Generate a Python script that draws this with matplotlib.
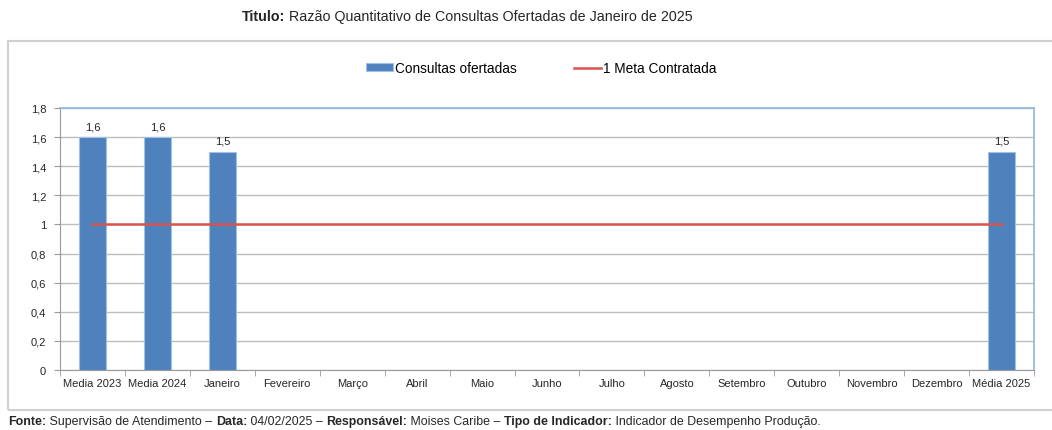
import matplotlib
matplotlib.use("Agg")
import matplotlib.pyplot as plt
from matplotlib.patches import Rectangle
from matplotlib.ticker import FuncFormatter, FixedLocator, MultipleLocator
from matplotlib.offsetbox import TextArea, HPacker, AnchoredOffsetbox
import numpy as np

plt.rcParams['font.family'] = ['Liberation Sans', 'DejaVu Sans']

categories = ["Media 2023", "Media 2024", "Janeiro", "Fevereiro", "Março", "Abril",
              "Maio", "Junho", "Julho", "Agosto", "Setembro", "Outubro", "Novembro",
              "Dezembro", "Média 2025"]
consultas = [1.6, 1.6, 1.5, None, None, None, None, None, None, None, None, None, None, None, 1.5]
meta = [1.0] * len(categories)

W, H = 1052, 431
fig = plt.figure(figsize=(W / 100, H / 100), dpi=100)

def fx(px):
    return px / W

def fy(py):
    return 1 - py / H

TXT = "#262626"

# outer frame
frame = Rectangle((fx(8), fy(411)), fx(1060) - fx(8), fy(42) - fy(411),
                  transform=fig.transFigure, fill=False, edgecolor="#d0d0d0", lw=1.5)
fig.add_artist(frame)

left, right, top, bottom = 60, 1034, 109, 371
ax = fig.add_axes([fx(left), fy(bottom), fx(right) - fx(left), fy(top) - fy(bottom)])

x = np.arange(len(categories))
mask = [v is not None for v in consultas]
xs = x[mask]
vs = np.array([v for v in consultas if v is not None])
bars = ax.bar(xs, vs, width=0.42, color="#4f81bd", edgecolor="#9cc3e6", linewidth=0.8,
              zorder=3, label="Consultas ofertadas")
for xi, v in zip(xs, vs):
    ax.text(xi, v + 0.04, f"{v:.1f}".replace(".", ","), ha="center", va="bottom",
            fontsize=8, color=TXT)

ax.plot(x, meta, color="#d9534f", lw=1.8, zorder=4, label="1 Meta Contratada")

ax.set_xlim(-0.5, len(categories) - 0.5)
ax.set_ylim(0, 1.8)
ax.yaxis.set_major_locator(MultipleLocator(0.2))
ax.yaxis.set_major_formatter(FuncFormatter(
    lambda v, p: "0" if abs(v) < 1e-9 else ("1" if abs(v - 1) < 1e-9 else f"{v:.1f}".replace(".", ","))))
ax.set_xticks(x)
ax.set_xticklabels(categories)
ax.xaxis.set_minor_locator(FixedLocator(np.arange(-0.5, len(categories), 1)))
ax.tick_params(axis="x", which="major", length=0, labelsize=8, pad=6, colors=TXT)
ax.tick_params(axis="x", which="minor", length=4, color="#999999", direction="out")
ax.tick_params(axis="y", length=4, color="#999999", labelsize=8, pad=6, colors=TXT)
ax.grid(axis="y", color="#bdbdbd", lw=1.0, zorder=0)
ax.set_axisbelow(True)

for s in ["top", "right"]:
    ax.spines[s].set_color("#8db8e0")
    ax.spines[s].set_linewidth(1.2)
ax.spines["left"].set_color("#9a9a9a")
ax.spines["bottom"].set_color("#9a9a9a")

fig.legend(handles=[bars, ax.lines[0]], labels=["Consultas ofertadas", "1 Meta Contratada"],
           loc="center", bbox_to_anchor=(fx(541), fy(69)), ncol=2, frameon=False,
           fontsize=9.8, handlelength=2.0, handletextpad=0.15, columnspacing=4.2,
           handleheight=0.5)


def rich_line(parts, size, anchor_xy, loc):
    boxes = [TextArea(t, textprops=dict(fontsize=size, color=TXT,
                                        fontweight="bold" if b else "normal")) for t, b in parts]
    pack = HPacker(children=boxes, align="baseline", pad=0, sep=0)
    ab = AnchoredOffsetbox(loc=loc, child=pack, pad=0, frameon=False,
                           bbox_to_anchor=anchor_xy, bbox_transform=fig.transFigure,
                           borderpad=0)
    fig.add_artist(ab)


rich_line([("Titulo:", True), (" Razão Quantitativo de Consultas Ofertadas de Janeiro de 2025", False)],
          10.3, (fx(467), fy(17)), "center")

rich_line([("Fonte:", True), (" Supervisão de Atendimento – ", False), ("Data:", True),
           (" 04/02/2025 – ", False), ("Responsável:", True), (" Moises Caribe – ", False),
           ("Tipo de Indicador:", True), (" Indicador de Desempenho Produção.", False)],
          8.9, (fx(8), fy(422)), "center left")

fig.savefig("out.png", dpi=100)
